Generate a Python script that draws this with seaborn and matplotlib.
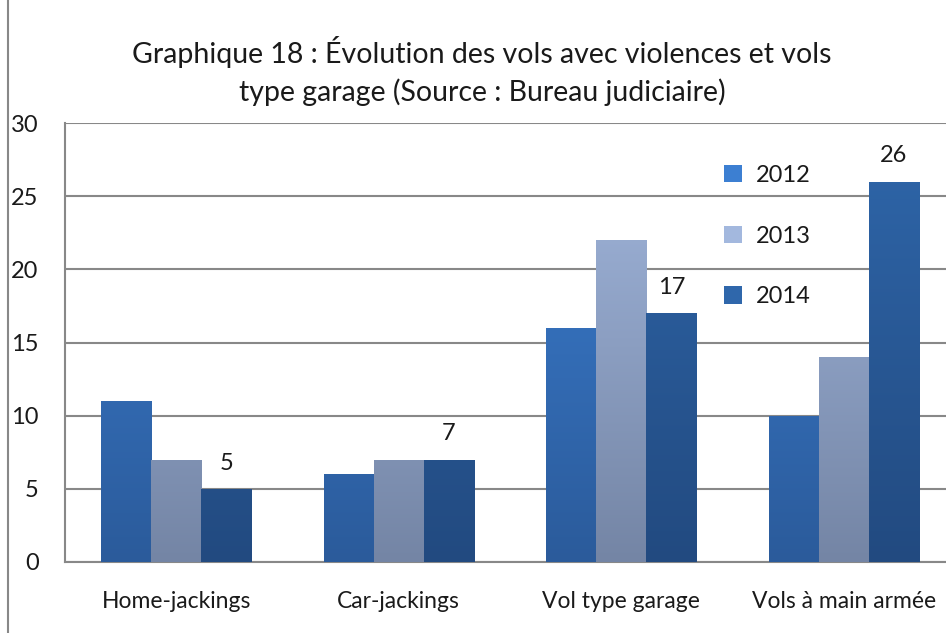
import numpy as np
import pandas as pd
import matplotlib
matplotlib.use("Agg")
import matplotlib.pyplot as plt
import seaborn as sns
from matplotlib.colors import LinearSegmentedColormap
from matplotlib.lines import Line2D

categories = ["Home-jackings", "Car-jackings", "Vol type garage", "Vols à main armée"]
years = ["2012", "2013", "2014"]
v2012 = [11, 6, 16, 10]
v2013 = [7, 7, 22, 14]
v2014 = [5, 7, 17, 26]
title = "Graphique 18 : Évolution des vols avec violences et vols\ntype garage (Source : Bureau judiciaire)"

df = pd.DataFrame({
    "cat": categories * 3,
    "year": [years[0]] * 4 + [years[1]] * 4 + [years[2]] * 4,
    "val": v2012 + v2013 + v2014,
})

sns.set_theme(style="white")
plt.rcParams["font.family"] = ["Lato", "DejaVu Sans"]

top_cols = {"2012": "#3c7fd2", "2013": "#a3b8de", "2014": "#2f67ab"}
bot_cols = {"2012": "#2b5b9b", "2013": "#7485a5", "2014": "#224a80"}

fig = plt.figure(figsize=(9.46, 6.33), dpi=100)
ax = fig.add_axes([65 / 946, 71 / 633, 890 / 946, 439 / 633])

sns.barplot(data=df, x="cat", y="val", hue="year", order=categories, hue_order=years,
            palette=top_cols, width=0.675, saturation=1, ax=ax, legend=False, zorder=3)

ax.set_ylim(0, 30)
ax.set_xlim(-0.5, 3.5)
ax.set_yticks([0, 5, 10, 15, 20, 25, 30])
ax.yaxis.grid(True, color="#888888", linewidth=1.5, zorder=0)
ax.set_axisbelow(True)
ax.set_xlabel("")
ax.set_ylabel("")
for s in ["top", "right"]:
    ax.spines[s].set_visible(False)
for s in ["left", "bottom"]:
    ax.spines[s].set_color("#888888")
    ax.spines[s].set_linewidth(1.5)
ax.tick_params(axis="y", length=0, pad=19, labelsize=17, labelcolor="#1a1a1a")
ax.tick_params(axis="x", length=0, pad=21, labelsize=16.5, labelcolor="#1a1a1a")

# gradient fill for each bar
for ci, cont in enumerate(ax.containers):
    yr = years[ci]
    cmap = LinearSegmentedColormap.from_list(yr, [bot_cols[yr], top_cols[yr]])
    for p in cont.patches:
        x0 = p.get_x()
        w = p.get_width()
        grad = np.linspace(0, 1, 256).reshape(-1, 1)
        im = ax.imshow(grad, cmap=cmap, aspect="auto", origin="lower",
                       extent=[x0, x0 + w, 0, 30], zorder=3.5, interpolation="bicubic")
        im.set_clip_path(p)
        p.set_edgecolor("none")

# data labels for 2014 only
ax.bar_label(ax.containers[2], labels=[str(v) for v in v2014], padding=11,
             fontsize=17, color="#1a1a1a")

# legend
handles = [plt.Rectangle((0, 0), 1, 1, facecolor=top_cols[y], edgecolor="none") for y in years]
leg = ax.legend(handles, years, loc="upper left", bbox_to_anchor=(638 / 890, 0.953),
                frameon=False, fontsize=17, labelspacing=1.68, handlelength=0.75,
                handleheight=0.75, handletextpad=0.6)
for t in leg.get_texts():
    t.set_color("#1a1a1a")

fig.text(482 / 946, 1 - 71 / 633, title, ha="center", va="center", fontsize=20.5,
         color="#1a1a1a", linespacing=1.5)

fig.add_artist(Line2D([8 / 946, 8 / 946], [0, 1], color="#888888", linewidth=1.5,
                      transform=fig.transFigure))

fig.savefig("out.png", dpi=100)
